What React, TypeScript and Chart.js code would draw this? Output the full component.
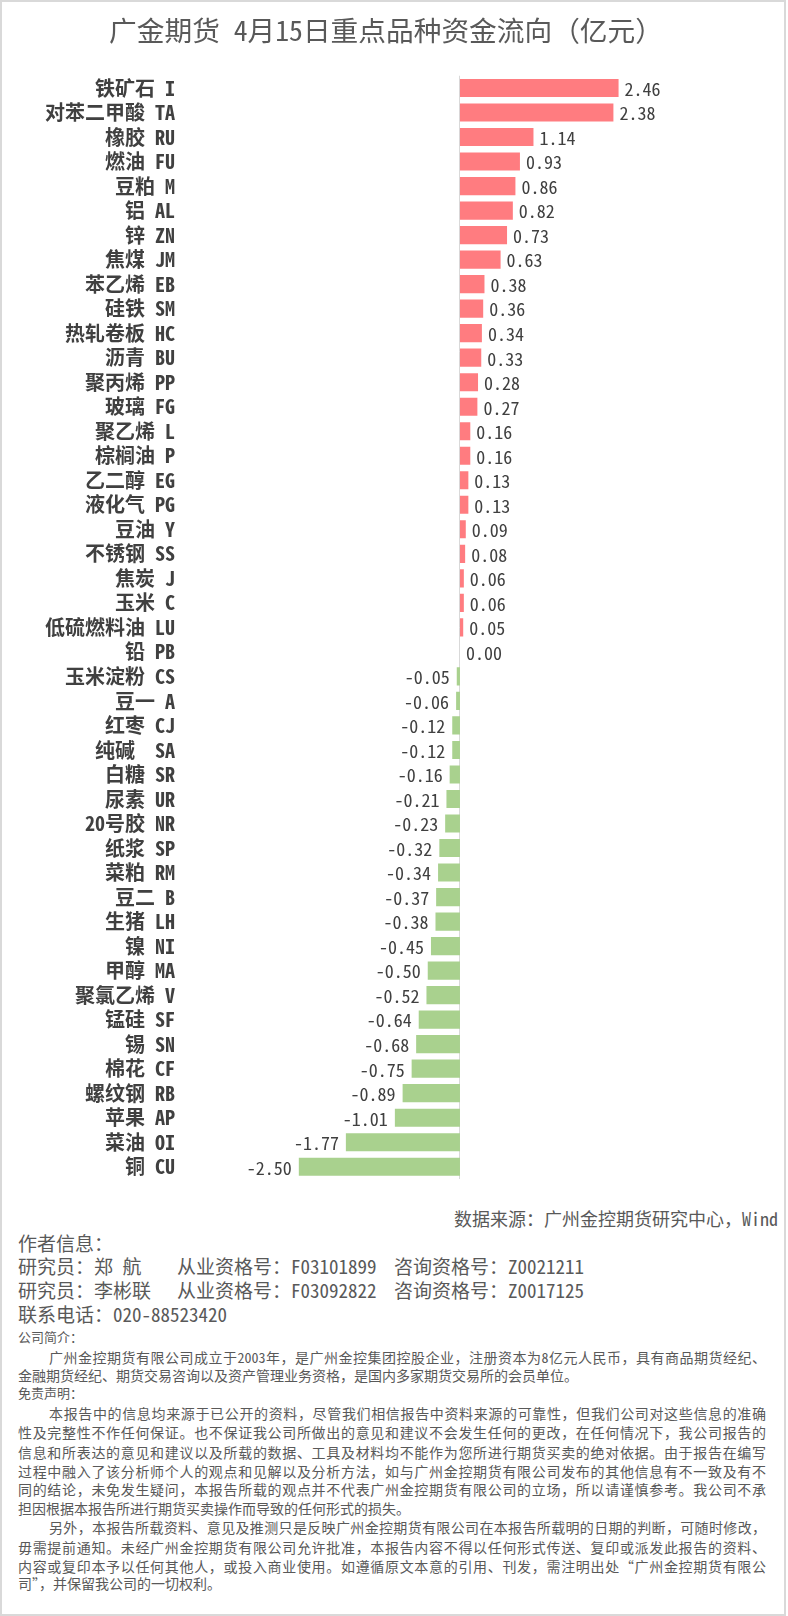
import React, { useEffect, useRef } from "react";
import { Chart, registerables } from "chart.js";

Chart.register(...registerables);

const categories = [
  "铁矿石 I", "对苯二甲酸 TA", "橡胶 RU", "燃油 FU", "豆粕 M", "铝 AL", "锌 ZN", "焦煤 JM",
  "苯乙烯 EB", "硅铁 SM", "热轧卷板 HC", "沥青 BU", "聚丙烯 PP", "玻璃 FG", "聚乙烯 L",
  "棕榈油 P", "乙二醇 EG", "液化气 PG", "豆油 Y", "不锈钢 SS", "焦炭 J", "玉米 C",
  "低硫燃料油 LU", "铅 PB", "玉米淀粉 CS", "豆一 A", "红枣 CJ", "纯碱  SA", "白糖 SR",
  "尿素 UR", "20号胶 NR", "纸浆 SP", "菜粕 RM", "豆二 B", "生猪 LH", "镍 NI", "甲醇 MA",
  "聚氯乙烯 V", "锰硅 SF", "锡 SN", "棉花 CF", "螺纹钢 RB", "苹果 AP", "菜油 OI", "铜 CU",
];

const values = [
  2.46, 2.38, 1.14, 0.93, 0.86, 0.82, 0.73, 0.63,
  0.38, 0.36, 0.34, 0.33, 0.28, 0.27, 0.16,
  0.16, 0.13, 0.13, 0.09, 0.08, 0.06, 0.06,
  0.05, 0.0, -0.05, -0.06, -0.12, -0.12, -0.16,
  -0.21, -0.23, -0.32, -0.34, -0.37, -0.38, -0.45, -0.5,
  -0.52, -0.64, -0.68, -0.75, -0.89, -1.01, -1.77, -2.5,
];

const titleText = "广金期货 4月15日重点品种资金流向（亿元）";
const sourceText = "数据来源：广州金控期货研究中心，Wind";

const POS_COLOR = "#FF7C80";
const NEG_COLOR = "#A9D18E";
const FONT = "'Noto Sans Mono CJK SC', 'Noto Sans CJK SC', sans-serif";
const FOOT = "#595959";

const researchers = [
  { name: "研究员：郑 航", cert: "从业资格号：F03101899", consult: "咨询资格号：Z0021211" },
  { name: "研究员：李彬联", cert: "从业资格号：F03092822", consult: "咨询资格号：Z0017125" },
];

const companyLines = [
  "广州金控期货有限公司成立于2003年，是广州金控集团控股企业，注册资本为8亿元人民币，具有商品期货经纪、",
  "金融期货经纪、期货交易咨询以及资产管理业务资格，是国内多家期货交易所的会员单位。",
];
const disclaimerLines = [
  "本报告中的信息均来源于已公开的资料，尽管我们相信报告中资料来源的可靠性，但我们公司对这些信息的准确",
  "性及完整性不作任何保证。也不保证我公司所做出的意见和建议不会发生任何的更改，在任何情况下，我公司报告的",
  "信息和所表达的意见和建议以及所载的数据、工具及材料均不能作为您所进行期货买卖的绝对依据。由于报告在编写",
  "过程中融入了该分析师个人的观点和见解以及分析方法，如与广州金控期货有限公司发布的其他信息有不一致及有不",
  "同的结论，未免发生疑问，本报告所载的观点并不代表广州金控期货有限公司的立场，所以请谨慎参考。我公司不承",
  "担因根据本报告所进行期货买卖操作而导致的任何形式的损失。",
];
const extraLines = [
  "另外，本报告所载资料、意见及推测只是反映广州金控期货有限公司在本报告所载明的日期的判断，可随时修改，",
  "毋需提前通知。未经广州金控期货有限公司允许批准，本报告内容不得以任何形式传送、复印或派发此报告的资料、",
  "内容或复印本予以任何其他人，或投入商业使用。如遵循原文本意的引用、刊发，需注明出处“广州金控期货有限公",
  "司”，并保留我公司的一切权利。",
];

const zeroLinePlugin = {
  id: "zeroLine",
  beforeDatasetsDraw(chart: any) {
    const { ctx, chartArea, scales } = chart;
    const x = Math.round(scales.x.getPixelForValue(0)) - 0.5;
    ctx.save();
    ctx.strokeStyle = "#d9d9d9";
    ctx.lineWidth = 1;
    ctx.beginPath();
    ctx.moveTo(x, chartArea.top);
    ctx.lineTo(x, chartArea.bottom);
    ctx.stroke();
    ctx.restore();
  },
};

const valueLabelPlugin = {
  id: "valueLabels",
  afterDatasetsDraw(chart: any) {
    const { ctx } = chart;
    const meta = chart.getDatasetMeta(0);
    ctx.save();
    ctx.font = `18px ${FONT}`;
    ctx.fillStyle = "#404040";
    ctx.textBaseline = "middle";
    meta.data.forEach((bar: any, i: number) => {
      const v = values[i];
      const txt = v.toFixed(2);
      if (v >= 0) {
        ctx.textAlign = "left";
        ctx.fillText(txt, bar.x + 6, bar.y + 1);
      } else {
        ctx.textAlign = "right";
        ctx.fillText(txt, bar.x - 7, bar.y + 1);
      }
    });
    ctx.restore();
  },
};

type LineProps = { text: string; y: number; indent?: boolean; justify?: boolean };
function ParaLine({ text, y, indent, justify }: LineProps) {
  const left = indent ? 49 : 18;
  return (
    <div
      style={{
        position: "absolute",
        left,
        top: y - 9,
        width: 766 - left,
        height: 18,
        lineHeight: "18px",
        fontSize: 14,
        color: FOOT,
        textAlign: justify ? "justify" : "left",
        textAlignLast: justify ? "justify" : "left",
        whiteSpace: "nowrap",
      } as React.CSSProperties}
    >
      {text}
    </div>
  );
}

export default function App() {
  const canvasRef = useRef<HTMLCanvasElement>(null);

  useEffect(() => {
    const chart = new Chart(canvasRef.current as HTMLCanvasElement, {
      type: "bar",
      data: {
        labels: categories,
        datasets: [
          {
            data: values,
            backgroundColor: values.map((v) => (v >= 0 ? POS_COLOR : NEG_COLOR)),
            borderWidth: 0,
            barPercentage: 0.74,
            categoryPercentage: 1,
          },
        ],
      },
      options: {
        indexAxis: "y",
        animation: false,
        responsive: true,
        maintainAspectRatio: false,
        layout: { padding: { left: 0, right: 16, top: 0, bottom: 16 } },
        plugins: {
          legend: { display: false },
          tooltip: { enabled: false },
          title: {
            display: true,
            text: titleText,
            color: "#595959",
            font: { family: FONT, size: 27.7, weight: "normal" as any, lineHeight: 1.2 },
            padding: { top: 13.5, bottom: 29 },
          },
        },
        scales: {
          x: {
            display: false,
            min: -4.25,
            max: 4.84,
          },
          y: {
            grid: { display: false },
            border: { display: false },
            ticks: {
              color: "#404040",
              padding: 3,
              autoSkip: false,
              font: { family: FONT, size: 20, weight: "bold" as any },
            },
            afterFit(scale: any) {
              scale.width = 186;
            },
          },
        },
      },
      plugins: [zeroLinePlugin, valueLabelPlugin],
    });
    return () => chart.destroy();
  }, []);

  const lineStyle = (y: number, size: number, h: number): React.CSSProperties => ({
    position: "absolute",
    top: y - h / 2,
    height: h,
    lineHeight: `${h}px`,
    fontSize: size,
    color: FOOT,
    whiteSpace: "nowrap",
  });

  return (
    <div
      style={{
        position: "absolute",
        left: 0,
        top: 0,
        width: 788,
        height: 1616,
        background: "#ffffff",
        fontFamily: FONT,
        overflow: "hidden",
      }}
    >
      <div style={{ position: "absolute", left: 0, top: 0, width: 788, height: 1195 }}>
        <canvas ref={canvasRef} />
      </div>

      <div style={{ ...lineStyle(1218, 18, 22), left: 0, width: 778, textAlign: "right" }}>{sourceText}</div>

      <div style={{ ...lineStyle(1243, 19, 22), left: 18 }}>作者信息：</div>

      {researchers.map((r, i) => {
        const y = 1266 + i * 24;
        return (
          <React.Fragment key={i}>
            <div style={{ ...lineStyle(y, 19, 22), left: 18 }}>{r.name}</div>
            <div style={{ ...lineStyle(y, 19, 22), left: 177 }}>{r.cert}</div>
            <div style={{ ...lineStyle(y, 19, 22), left: 394 }}>{r.consult}</div>
          </React.Fragment>
        );
      })}

      <div style={{ ...lineStyle(1314, 19, 22), left: 18 }}>联系电话：020-88523420</div>

      <div style={{ ...lineStyle(1337, 13, 16), left: 18 }}>公司简介：</div>
      <ParaLine text={companyLines[0]} y={1357} indent justify />
      <ParaLine text={companyLines[1]} y={1375} />

      <div style={{ ...lineStyle(1393, 13, 16), left: 18 }}>免责声明：</div>
      {disclaimerLines.map((t, i) => (
        <ParaLine
          key={"d" + i}
          text={t}
          y={[1413, 1432, 1452, 1471, 1489, 1508][i]}
          indent={i === 0}
          justify={i < disclaimerLines.length - 1}
        />
      ))}
      {extraLines.map((t, i) => (
        <ParaLine
          key={"e" + i}
          text={t}
          y={[1527, 1547, 1566, 1583][i]}
          indent={i === 0}
          justify={i < extraLines.length - 1}
        />
      ))}

      <div
        style={{
          position: "absolute",
          left: 0,
          top: 0,
          width: 786,
          height: 1616,
          border: "2px solid #d9d9d9",
          boxSizing: "border-box",
          pointerEvents: "none",
        }}
      />
    </div>
  );
}
